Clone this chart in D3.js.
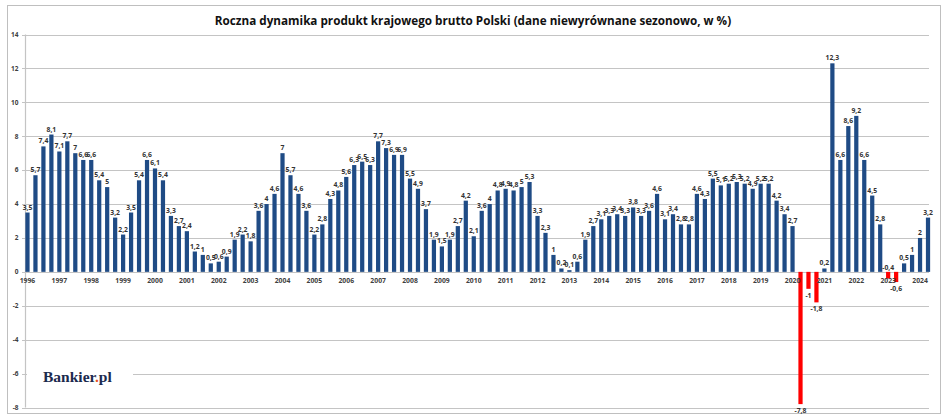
<!DOCTYPE html>
<html>
<head>
<meta charset="utf-8">
<script src="https://cdn.jsdelivr.net/npm/d3@7"></script>
<style>
  html, body { margin: 0; padding: 0; background: #fff; }
  svg { display: block; }
</style>
</head>
<body>
<svg id="chart" width="948" height="420"></svg>
<script>
// ---- DATA ----
const years = [1996,1997,1998,1999,2000,2001,2002,2003,2004,2005,2006,2007,2008,2009,2010,
               2011,2012,2013,2014,2015,2016,2017,2018,2019,2020,2021,2022,2023,2024];
const quarters = ["Q1","Q2","Q3","Q4"];
const values = [
  3.5, 5.7, 7.4, 8.1,   // 1996
  7.1, 7.7, 7.0, 6.6,   // 1997
  6.6, 5.4, 5.0, 3.2,   // 1998
  2.2, 3.5, 5.4, 6.6,   // 1999
  6.1, 5.4, 3.3, 2.7,   // 2000
  2.4, 1.2, 1.0, 0.5,   // 2001
  0.6, 0.9, 1.9, 2.2,   // 2002
  1.8, 3.6, 4.0, 4.6,   // 2003
  7.0, 5.7, 4.6, 3.6,   // 2004
  2.2, 2.8, 4.3, 4.8,   // 2005
  5.6, 6.3, 6.5, 6.3,   // 2006
  7.7, 7.3, 6.9, 6.9,   // 2007
  5.5, 4.9, 3.7, 1.9,   // 2008
  1.5, 1.9, 2.7, 4.2,   // 2009
  2.1, 3.6, 4.0, 4.8,   // 2010
  4.9, 4.8, 5.0, 5.3,   // 2011
  3.3, 2.3, 1.0, 0.2,   // 2012
  0.1, 0.6, 1.9, 2.7,   // 2013
  3.1, 3.3, 3.4, 3.3,   // 2014
  3.8, 3.3, 3.6, 4.6,   // 2015
  3.1, 3.4, 2.8, 2.8,   // 2016
  4.6, 4.3, 5.5, 5.1,   // 2017
  5.2, 5.3, 5.2, 4.9,   // 2018
  5.2, 5.2, 4.2, 3.4,   // 2019
  2.7, -7.8, -1.0, -1.8,// 2020
  0.2, 12.3, 6.6, 8.6,  // 2021
  9.2, 6.6, 4.5, 2.8,   // 2022
  -0.4, -0.6, 0.5, 1.0, // 2023
  2.0, 3.2              // 2024
];
const yTicks = [-8,-6,-4,-2,0,2,4,6,8,10,12,14];
const title = "Roczna dynamika produkt krajowego brutto Polski (dane niewyrównane sezonowo, w %)";

// ---- BUILD ----
const data = values.map((v, i) => ({
  key: years[Math.floor(i / 4)] + quarters[i % 4],
  year: years[Math.floor(i / 4)],
  q: i % 4,
  v
}));

const svg = d3.select("#chart");

// outer frame
svg.append("rect").attr("x", 7.5).attr("y", 5.5).attr("width", 933).attr("height", 408)
  .attr("fill", "#fff").attr("stroke", "#bfbfbf").attr("stroke-width", 1);

const x = d3.scaleBand()
  .domain(data.map(d => d.key))
  .range([23.5, 932])
  .paddingInner(0.47)
  .paddingOuter(0.235);

const y = d3.scaleLinear().domain([-8, 14]).range([407.5, 34.5]);

const gridLeft = 25, gridRight = 929;

// gridlines
svg.append("g").selectAll("line").data(yTicks).join("line")
  .attr("x1", gridLeft).attr("x2", gridRight)
  .attr("y1", d => Math.round(y(d)) + 0.5).attr("y2", d => Math.round(y(d)) + 0.5)
  .attr("stroke", "#c4c4c4").attr("stroke-width", 1.2);

// y axis line
svg.append("line").attr("x1", gridLeft + 0.5).attr("x2", gridLeft + 0.5)
  .attr("y1", y(14)).attr("y2", y(-8))
  .attr("stroke", "#c4c4c4").attr("stroke-width", 1.2);

// y ticks
svg.append("g").selectAll("line").data(yTicks).join("line")
  .attr("x1", gridLeft - 3).attr("x2", gridLeft)
  .attr("y1", d => Math.round(y(d)) + 0.5).attr("y2", d => Math.round(y(d)) + 0.5)
  .attr("stroke", "#c4c4c4");

// y tick labels
svg.append("g").selectAll("text").data(yTicks).join("text")
  .attr("x", 18.5).attr("y", d => y(d) + 2.3)
  .attr("text-anchor", "end")
  .attr("font-family", "Open Sans, Liberation Sans, sans-serif")
  .attr("font-size", 6.5).attr("font-weight", 700).attr("fill", "#404040")
  .text(d => d);

// logo white box (covers gridline)
svg.append("rect").attr("x", 27).attr("y", 360).attr("width", 106).attr("height", 30).attr("fill", "#fff");

// bars
svg.append("g").selectAll("rect").data(data).join("rect")
  .attr("x", d => x(d.key))
  .attr("width", x.bandwidth())
  .attr("y", d => y(Math.max(0, d.v)))
  .attr("height", d => Math.abs(y(d.v) - y(0)))
  .attr("fill", d => d.v < 0 ? "#ff0000" : "#1f4b85");

// data labels (small negatives sit above the zero line, as in the source)
const fmt = v => String(v).replace(".", ",");
svg.append("g").selectAll("text").data(data).join("text")
  .attr("x", d => x(d.key) + x.bandwidth() / 2)
  .attr("y", d => {
    if (d.v >= 0) return y(d.v) - 3;
    if (d.v > -0.5) return y(0) - 2;
    return y(d.v) + 8.8;
  })
  .attr("text-anchor", "middle")
  .attr("font-family", "Open Sans, Liberation Sans, sans-serif")
  .attr("font-size", 6.8).attr("font-weight", 700).attr("fill", "#333")
  .text(d => fmt(d.v));

// year labels (at Q1 bars)
svg.append("g").selectAll("text").data(data.filter(d => d.q === 0)).join("text")
  .attr("x", d => x(d.key) + x.bandwidth() / 2)
  .attr("y", y(0) + 11.5)
  .attr("text-anchor", "middle")
  .attr("font-family", "Open Sans, Liberation Sans, sans-serif")
  .attr("font-size", 6.8).attr("font-weight", 700).attr("fill", "#404040")
  .text(d => d.year);

// title
svg.append("text").attr("x", 473).attr("y", 24.5)
  .attr("text-anchor", "middle")
  .attr("font-family", "Open Sans, Liberation Sans, sans-serif")
  .attr("font-size", 11.7).attr("font-weight", 700).attr("fill", "#111")
  .text(title);

// logo
const logo = svg.append("text").attr("x", 43).attr("y", 382)
  .attr("font-family", "Liberation Serif, DejaVu Serif, serif")
  .attr("font-size", 15.5).attr("font-weight", 700).attr("fill", "#1b2a4e");
logo.append("tspan").text("Bankier");
logo.append("tspan").attr("fill", "#e8501e").text(".");
logo.append("tspan").text("pl");
</script>
</body>
</html>
